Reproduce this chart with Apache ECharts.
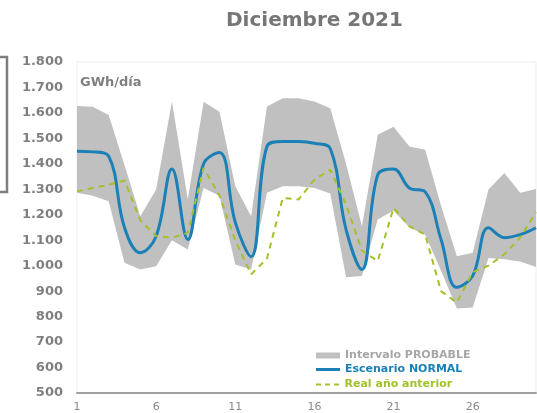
<!DOCTYPE html>
<html>
<head>
<meta charset="utf-8">
<script src="https://cdn.jsdelivr.net/npm/echarts@6/dist/echarts.min.js"></script>
<style>
  html, body { margin: 0; padding: 0; background: #fff; }
  #chart { width: 537px; height: 413px; }
</style>
</head>
<body>
<div id="chart"></div>
<script>
const days = Array.from({ length: 30 }, (_, i) => String(i + 1))

// Intervalo PROBABLE, borde superior e inferior (GWh/día)
const bandHigh = [1627, 1624, 1592, 1395, 1194, 1299, 1645, 1260, 1644, 1605,
  1312, 1194, 1625, 1658, 1658, 1645, 1618, 1400, 1155, 1514,
  1546, 1468, 1455, 1235, 1037, 1051, 1299, 1364, 1286, 1301]
const bandLow = [1286, 1275, 1253, 1012, 985, 998, 1100, 1064, 1305, 1275,
  1005, 985, 1286, 1312, 1312, 1305, 1284, 955, 960, 1181,
  1217, 1150, 1122, 980, 832, 836, 1030, 1025, 1016, 995]
const normal = [1449, 1447, 1430, 1150, 1051, 1116, 1380, 1103, 1400, 1445,
  1170, 1035, 1468, 1488, 1488, 1481, 1460, 1142, 985, 1357,
  1380, 1305, 1290, 1103, 915, 960, 1149, 1110, 1122, 1149]
const lastYear = [1292, 1305, 1318, 1335, 1178, 1116, 1110, 1129, 1384, 1275,
  1100, 966, 1028, 1266, 1260, 1338, 1377, 1240, 1060, 1018,
  1227, 1155, 1122, 900, 855, 975, 1000, 1045, 1110, 1210]

const grey = '#7f7f7f'
const bandColor = '#c0c0c0'
const blue = '#1a80b6'
const green = '#a2c12a'

const bandSpan = bandHigh.map((v, i) => v - bandLow[i])

function fmtThousands(v) {
  if (v < 1000) return String(v)
  return Math.floor(v / 1000) + '.' + String(v % 1000).padStart(3, '0')
}

// one legend per row so each icon can get its own height
function legendRow(name, top, icon, height, color) {
  return {
    orient: 'vertical',
    left: 316,
    top,
    padding: 0,
    itemWidth: 24,
    itemHeight: height,
    selectedMode: false,
    textStyle: { fontSize: 11, fontWeight: 'bold', fontFamily: 'DejaVu Sans', color },
    data: [{ name, icon, itemStyle: { color: name === 'Intervalo PROBABLE' ? bandColor : color } }],
  }
}

const chart = echarts.init(document.getElementById('chart'))

chart.setOption({
  animation: false,
  textStyle: { fontFamily: 'DejaVu Sans' },
  title: {
    text: 'Diciembre 2021',
    left: 221,
    top: 6,
    textStyle: { fontSize: 20, fontWeight: 'bold', color: '#767676', fontFamily: 'DejaVu Sans' },
  },
  grid: {
    left: 77,
    right: 1,
    top: 62,
    bottom: 19,
    show: true,
    borderColor: '#ededed',
    borderWidth: 1,
  },
  legend: [
    legendRow('Intervalo PROBABLE', 350, 'rect', 6, '#a6a6a6'),
    legendRow('Escenario NORMAL', 364, 'rect', 3, blue),
    legendRow('Real año anterior', 379, 'path://M0,0h5v2h-5zM9,0h5v2h-5zM18,0h5v2h-5z', 2, green),
  ],
  xAxis: {
    type: 'category',
    data: days,
    boundaryGap: false,
    axisLine: { lineStyle: { color: '#a0a0a0', width: 2 } },
    axisTick: { show: false },
    axisLabel: { interval: 4, color: '#8a8a8a', fontSize: 11, margin: 9 },
    splitLine: { show: false },
  },
  yAxis: {
    type: 'value',
    min: 500,
    max: 1800,
    interval: 100,
    axisLine: { show: false },
    axisTick: { show: false },
    splitLine: { show: false },
    axisLabel: {
      color: grey,
      fontSize: 13,
      fontWeight: 'bold',
      margin: 14,
      formatter: fmtThousands,
    },
  },
  graphic: [
    {
      type: 'rect',
      shape: { x: -20, y: 57, width: 27, height: 135 },
      style: { fill: 'none', stroke: grey, lineWidth: 2.5 },
    },
    {
      type: 'text',
      left: 80,
      top: 76,
      style: { text: 'GWh/día', fill: grey, font: 'bold 13px "DejaVu Sans"' },
    },
  ],
  series: [
    {
      name: 'lower',
      type: 'line',
      stack: 'band',
      data: bandLow,
      symbol: 'none',
      lineStyle: { opacity: 0 },
      silent: true,
    },
    {
      name: 'Intervalo PROBABLE',
      type: 'line',
      stack: 'band',
      data: bandSpan,
      symbol: 'none',
      itemStyle: { color: bandColor },
      lineStyle: { opacity: 0 },
      areaStyle: { color: bandColor, opacity: 1 },
    },
    {
      name: 'Escenario NORMAL',
      type: 'line',
      data: normal,
      smooth: 0.4,
      symbol: 'none',
      itemStyle: { color: blue },
      lineStyle: { color: blue, width: 3 },
    },
    {
      name: 'Real año anterior',
      type: 'line',
      data: lastYear,
      symbol: 'none',
      itemStyle: { color: green },
      lineStyle: { color: green, width: 2, type: [6, 5] },
    },
  ],
})
</script>
</body>
</html>
